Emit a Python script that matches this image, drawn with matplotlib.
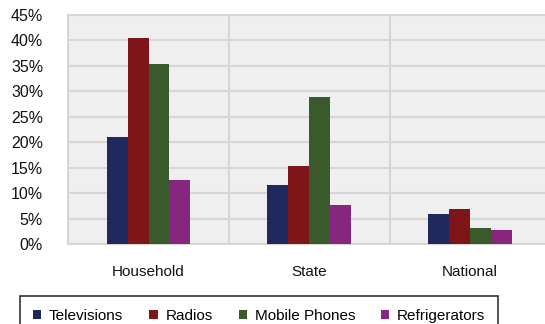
import matplotlib
matplotlib.use("Agg")
import matplotlib.pyplot as plt
import numpy as np
from matplotlib.ticker import FuncFormatter, MultipleLocator

plt.rcParams["font.family"] = ["Liberation Sans", "DejaVu Sans"]

levels = ["Household", "State", "National"]
series = ["Televisions", "Radios", "Mobile Phones", "Refrigerators"]
televisions = [21.0, 11.6, 5.9]
radios = [40.5, 15.3, 6.9]
mobile_phones = [35.4, 28.8, 3.1]
refrigerators = [12.6, 7.6, 2.8]
colors = ["#1f295e", "#7d1519", "#3b5a2b", "#86267f"]

values = [televisions, radios, mobile_phones, refrigerators]

fig = plt.figure(figsize=(5.45, 3.24), dpi=100)
ax = fig.add_axes([0.125, 0.247, 0.885, 0.707])
ax.set_facecolor("#efefef")

x = np.arange(len(levels))
width = 0.13
for i, (name, vals, c) in enumerate(zip(series, values, colors)):
    ax.bar(x + (i - 1.5) * width, vals, width, color=c, label=name, zorder=3)

ax.set_xlim(-0.5, 2.5)
ax.set_ylim(0, 45)
ax.yaxis.set_major_locator(MultipleLocator(5))
ax.yaxis.set_major_formatter(FuncFormatter(lambda v, _: f"{v:.0f}%"))
ax.set_xticks(x)
ax.set_xticklabels(levels)
ax.tick_params(length=0, colors="#111111")
ax.tick_params(axis="x", pad=15, labelsize=11)
ax.tick_params(axis="y", pad=18, labelsize=11.5)

ax.grid(axis="y", color="#d6d6d6", linewidth=1.5, zorder=0)
for b in [0.5, 1.5]:
    ax.axvline(b, color="#d6d6d6", linewidth=1.5, zorder=0)
for s in ax.spines.values():
    s.set_color("#d6d6d6")
    s.set_linewidth(1.5)

leg = fig.legend(loc="upper left", bbox_to_anchor=(20 / 545, 1 - 296 / 324),
                 ncol=4, fontsize=11, frameon=True, fancybox=False,
                 handlelength=0.55, handleheight=0.55, handletextpad=0.5,
                 columnspacing=1.7, borderpad=0.85, borderaxespad=0)
leg.get_frame().set_edgecolor("black")
leg.get_frame().set_linewidth(1.2)

fig.savefig("out.png", dpi=100)
